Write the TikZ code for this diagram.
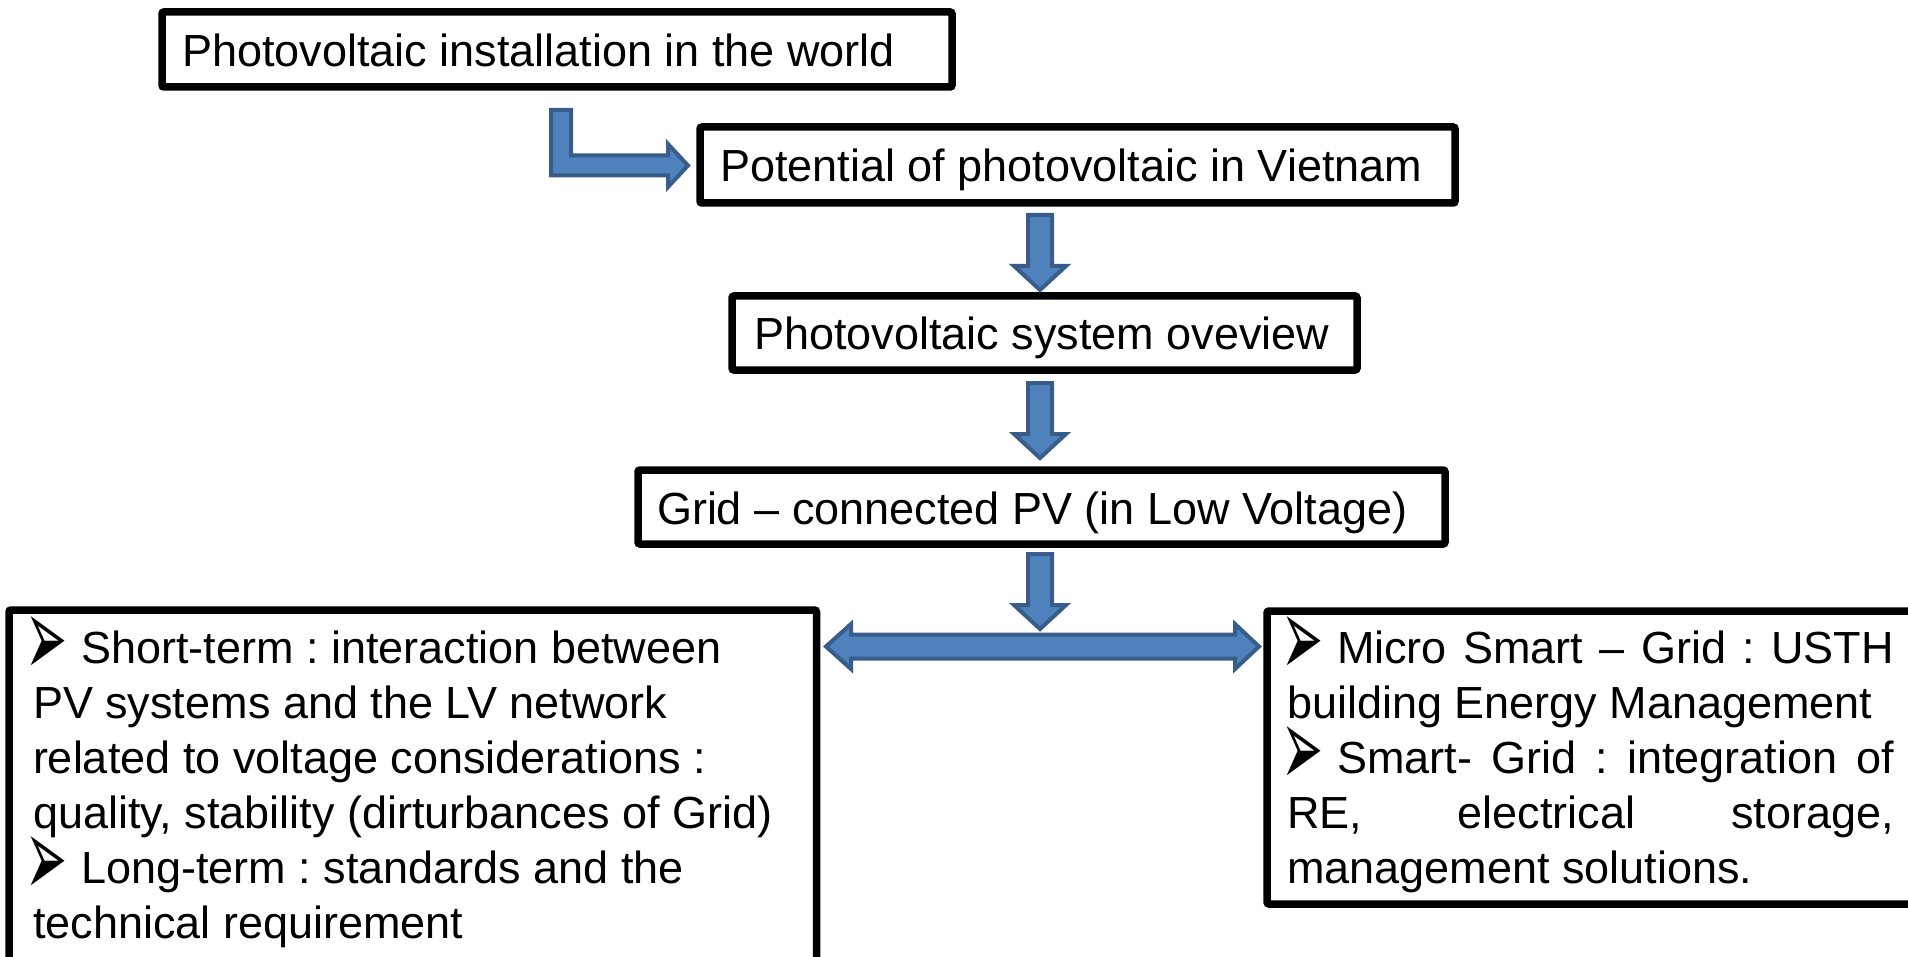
\documentclass[tikz,border=0pt]{standalone}
\usepackage{graphicx}
\usepackage{fontspec}
\setmainfont{Liberation Sans}
\newfontfamily\dejavu{DejaVu Sans}
\frenchspacing
\definecolor{arrfill}{HTML}{4F81BD}
\definecolor{arrline}{HTML}{385D8A}
\tikzset{
  boxst/.style={draw=black, line width=7.5pt, rounded corners=2pt, fill=white,
    anchor=north west, inner sep=0pt, outer sep=0pt},
  txt/.style={anchor=base west, inner sep=0pt, outer sep=0pt, font=\fontsize{45}{55}\selectfont},
  blockarrow/.style={fill=arrfill, draw=arrline, line width=4pt, line join=miter},
}
\newcommand\blt{\hspace*{-7.3pt}\raisebox{-13pt}[31pt][0pt]{\resizebox{42pt}{60pt}{\dejavu ➢}}\hspace*{13.3pt}}
\begin{document}
\begin{tikzpicture}[x=1pt,y=-1pt]
\useasboundingbox (0,0) rectangle (1908,957);
\clip (0,0) rectangle (1908,957);
% boxes
\node[boxst, minimum width=790pt, minimum height=75pt] (b1) at (162,12) {};
\node[boxst, minimum width=755pt, minimum height=76pt] (b2) at (700,127) {};
\node[boxst, minimum width=625pt, minimum height=74pt] (b3) at (732,296) {};
\node[boxst, minimum width=807pt, minimum height=74pt] (b4) at (638,470) {};
\node[boxst, minimum width=807.5pt, minimum height=420pt] (bl) at (9,610) {};
\node[boxst, minimum width=720pt, minimum height=293pt] (br) at (1267,611) {};
% texts
\node[txt] (t1) at (182,67) {Photovoltaic installation in the world};
\node[txt] (t2) at (720,182) {Potential of photovoltaic in Vietnam};
\node[txt] (t3) at (754,350) {Photovoltaic system oveview};
\node[txt] (t4) at (657,524) {Grid – connected PV (in Low Voltage)};
\node[txt] (l1) at (33,663) {\blt Short-term : interaction between};
\node[txt] (l2) at (33,718) {PV systems and the LV network};
\node[txt] (l3) at (33,773) {related to voltage considerations :};
\node[txt] (l4) at (33,828) {quality, stability (dirturbances of Grid)};
\node[txt] (l5) at (33,883) {\blt Long-term : standards and the};
\node[txt] (l6) at (33,938) {technical requirement};
\node[txt] (r1) at (1289,663) {\makebox[605pt][s]{\blt Micro Smart – Grid : USTH}};
\node[txt] (r2) at (1287,718) {building Energy Management};
\node[txt] (r3) at (1289,773) {\makebox[605pt][s]{\blt Smart- Grid : integration of}};
\node[txt] (r4) at (1287,828) {\makebox[607pt][s]{RE, electrical storage,}};
\node[txt] (r5) at (1287,883) {management solutions.};
% bent arrow
\draw[blockarrow] (551,110) -- (571,110) -- (571,155.5) -- (668,155.5) -- (668,144)
  -- (688,165.5) -- (668,187) -- (668,175.5) -- (551,175.5) -- cycle;
% down arrows
\foreach \T in {213,381,552}{
  \draw[blockarrow] (1028,\T+2) -- (1052,\T+2) -- (1052,\T+53) -- (1066,\T+53)
    -- (1040,\T+77) -- (1014,\T+53) -- (1028,\T+53) -- cycle;
}
% double arrow
\draw[blockarrow] (826,646.5) -- (851,624) -- (851,634.5) -- (1235,634.5) -- (1235,624)
  -- (1259,646.5) -- (1235,669) -- (1235,658.5) -- (851,658.5) -- (851,669) -- cycle;
\end{tikzpicture}
\end{document}
